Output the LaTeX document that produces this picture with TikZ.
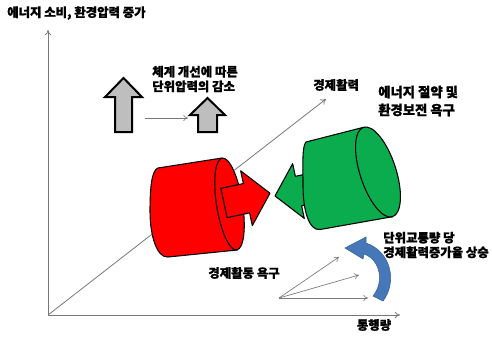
\documentclass[tikz,border=0pt]{standalone}
\usepackage{fontspec}
\setmainfont{Noto Sans CJK KR}[BoldFeatures={FakeBold=1.2}]
\usetikzlibrary{arrows.meta}
\definecolor{axisgray}{RGB}{120,120,120}
\definecolor{cylred}{RGB}{255,0,0}
\definecolor{cylgreen}{RGB}{10,172,78}
\definecolor{curveblue}{RGB}{70,120,185}
\definecolor{blockgray}{RGB}{190,190,190}
\begin{document}
\begin{tikzpicture}[x=0.75pt,y=-0.75pt,
  axis/.style={draw=axisgray, line width=0.6pt, -{To[length=4pt,width=5pt]}},
  thinarrow/.style={draw=axisgray, line width=0.5pt, -{To[length=3.5pt,width=4.5pt]}},
  cylbody/.style={draw=black, line width=0.8pt, line join=round},
  blockarrow/.style={draw=black, fill=blockgray, line width=1.5pt, line join=miter},
  label/.style={font=\bfseries\fontsize{9.3pt}{11pt}\selectfont, inner sep=0pt, align=left},
]
\useasboundingbox (0,0) rectangle (492,337);

% axes and the diagonal growth line
\coordinate (O) at (48,315);
\coordinate (ytop) at (48,30);
\coordinate (xend) at (400,315);
\coordinate (dtip) at (326,99);
\draw[axis] (O) -- (ytop);
\draw[axis] (O) -- (xend);
\draw[axis] (O) -- (dtip);

% fan of vectors
\coordinate (f0) at (279,298);
\coordinate (f1) at (339,257);
\coordinate (f2) at (359,275);
\coordinate (f3) at (368,298);
\draw[thinarrow] (f0) -- (f1);
\draw[thinarrow] (f0) -- (f2);
\draw[thinarrow] (f0) -- (f3);

% red cylinder
\draw[cylbody, fill=cylred] (158,168) -- (222,158) -- (237,250) -- (168,257)
  .. controls (157,258) and (150,236) .. (150,211)
  .. controls (150,186) and (152,170) .. (158,168) -- cycle;
\draw[cylbody, fill=cylred, rotate around={9:(229.5,204)}] (229.5,204) ellipse [x radius=13, y radius=46.5];
% red block arrow
\draw[cylbody, fill=cylred, shift={(224,203)}, rotate=12]
  (0,-15) -- (23,-15) -- (23,-28) -- (47,0) -- (23,28) -- (23,15) -- (0,15) -- cycle;

% green block arrow (behind its cylinder)
\draw[cylbody, fill=cylgreen, shift={(275,196)}, rotate=12]
  (0,0) -- (24,-28) -- (24,-15) -- (52,-15) -- (52,15) -- (24,15) -- (24,28) -- cycle;
% green cylinder
\draw[cylbody, fill=cylgreen] (306,142) -- (363.5,127.3) -- (392.5,216.7) -- (320,229.5)
  .. controls (309,231) and (303,210) .. (303,186)
  .. controls (303,162) and (302,147) .. (306,142) -- cycle;
\draw[cylbody, fill=cylgreen, rotate around={18:(378,172)}] (378,172) ellipse [x radius=18, y radius=47];

% blue curved arrow
\path[fill=curveblue, draw=curveblue!80!black, line width=0.4pt]
  (383,301) .. controls (397,283) and (392,252) .. (366,243)
  -- (366,237) -- (345,248) -- (363,259) -- (364,254)
  .. controls (381,260) and (384,283) .. (373,296) -- cycle;

% grey block arrows
\draw[blockarrow] (115,132) -- (115,97) -- (105,97) -- (123.5,78) -- (142,97) -- (132,97) -- (132,132) -- cycle;
\draw[blockarrow] (198,132) -- (198,115) -- (190,115) -- (207.5,98) -- (225,115) -- (217,115) -- (217,132) -- cycle;
\coordinate (g0) at (145,118);
\coordinate (g1) at (188,118);
\draw[thinarrow] (g0) -- (g1);

% labels
\node[label, anchor=west] (ylab) at (7,13) {에너지 소비, 환경압력 증가};
\node[label, anchor=west] (tlab) at (152,79) {체계 개선에 따른\\단위압력의 감소};
\node[label, anchor=west] (dlab) at (313,85) {경제활력};
\node[label, anchor=west, font=\bfseries\fontsize{10pt}{13.5pt}\selectfont] (glab) at (378,101) {에너지 절약 및\\환경보전 욕구};
\node[label] (rlab) at (244,273) {경제활동 욕구};
\node[label, anchor=west] (blab) at (383,245) {단위교통량 당\\경제활력증가율 상승};
\node[label] (xlab) at (374,325) {통행량};
\end{tikzpicture}
\end{document}
